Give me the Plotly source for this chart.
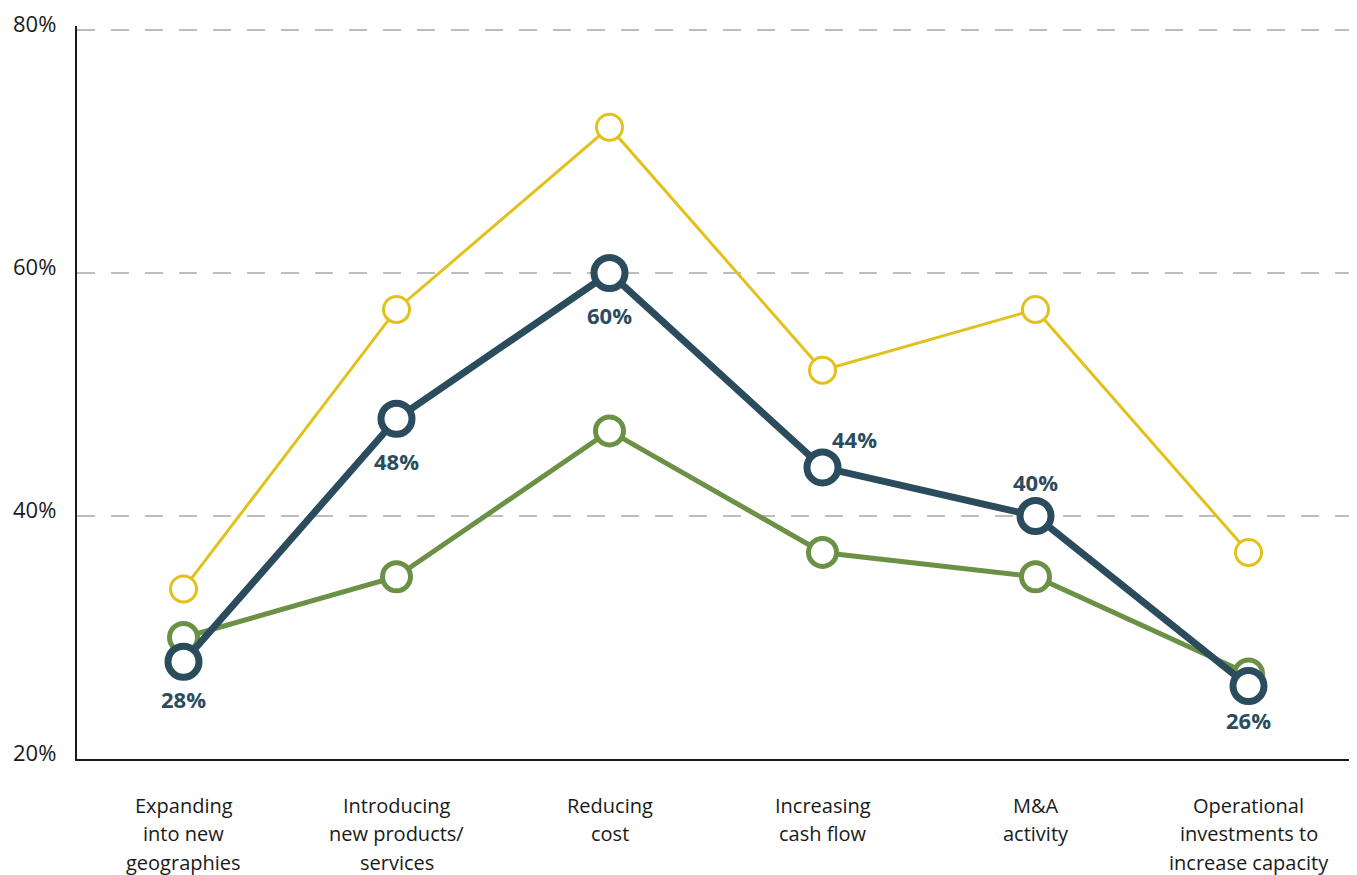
import plotly.graph_objects as go

category_lines = [
    ["Expanding", "into new", "geographies"],
    ["Introducing", "new products/", "services"],
    ["Reducing", "cost"],
    ["Increasing", "cash flow"],
    ["M&A", "activity"],
    ["Operational", "investments to", "increase capacity"],
]
yellow_values = [34, 57, 72, 52, 57, 37]
green_values = [30, 35, 47, 37, 35, 27]
dark_values = [28, 48, 60, 44, 40, 26]
dark_labels = ["28%", "48%", "60%", "44%", "40%", "26%"]
y_ticks = [20, 40, 60, 80]
y_tick_labels = ["20%", "40%", "60%", "80%"]

# label offsets (px) for the dark series callouts
label_shift = [(0, -37), (0, -42), (0, -42), (32, 28), (0, 34), (0, -34)]

COLORS = {
    "yellow": "#E3C11C",
    "green": "#6B9147",
    "dark": "#2A4C5D",
    "grid": "#BDBDBD",
    "ink": "#1A1A1A",
}
FONT = "Open Sans, sans-serif"

x = list(range(len(category_lines)))

fig = go.Figure()
fig.add_trace(
    go.Scatter(
        x=x,
        y=yellow_values,
        mode="lines+markers",
        line={"color": COLORS["yellow"], "width": 3},
        marker={"size": 26, "color": "white", "line": {"color": COLORS["yellow"], "width": 3}},
        showlegend=False,
        cliponaxis=False,
    )
)
fig.add_trace(
    go.Scatter(
        x=x,
        y=green_values,
        mode="lines+markers",
        line={"color": COLORS["green"], "width": 5},
        marker={"size": 28, "color": "white", "line": {"color": COLORS["green"], "width": 5}},
        showlegend=False,
        cliponaxis=False,
    )
)
fig.add_trace(
    go.Scatter(
        x=x,
        y=dark_values,
        mode="lines+markers",
        line={"color": COLORS["dark"], "width": 7},
        marker={"size": 31, "color": "white", "line": {"color": COLORS["dark"], "width": 7}},
        showlegend=False,
        cliponaxis=False,
    )
)

for xi, yi, label, (dx, dy) in zip(x, dark_values, dark_labels, label_shift):
    fig.add_annotation(
        x=xi,
        y=yi,
        text=f"<b>{label}</b>",
        showarrow=False,
        xshift=dx,
        yshift=dy,
        font={"color": COLORS["dark"], "size": 22, "family": FONT},
    )

# category labels, one annotation per line for wider line spacing
for xi, lines in zip(x, category_lines):
    for i, line in enumerate(lines):
        fig.add_annotation(
            x=xi,
            y=0,
            yref="paper",
            text=line,
            showarrow=False,
            yanchor="middle",
            borderpad=0,
            yshift=-(46 + i * 28.5),
            font={"color": COLORS["ink"], "size": 20, "family": FONT},
        )

# y tick labels sit slightly above their gridlines
for yv, label in zip(y_ticks, y_tick_labels):
    fig.add_annotation(
        x=0,
        xref="paper",
        y=yv,
        text=label,
        showarrow=False,
        xanchor="right",
        yanchor="middle",
        xshift=-19,
        yshift=7,
        font={"color": COLORS["ink"], "size": 22, "family": FONT},
    )

fig.update_layout(
    width=1349,
    height=867,
    paper_bgcolor="white",
    plot_bgcolor="white",
    font={"family": FONT, "color": COLORS["ink"], "size": 18},
    margin={"l": 69, "r": 2, "t": 18, "b": 116, "autoexpand": False},
)
fig.update_xaxes(
    range=[-0.5, 5.5],
    tickvals=x,
    showticklabels=False,
    showgrid=False,
    zeroline=False,
    showline=True,
    linecolor=COLORS["ink"],
    linewidth=2,
    ticks="",
    automargin=False,
)
fig.update_yaxes(
    range=[20, 80.33],
    tickvals=y_ticks,
    showticklabels=False,
    showgrid=True,
    gridcolor=COLORS["grid"],
    gridwidth=1.5,
    griddash="18px,16px",
    zeroline=False,
    showline=True,
    linecolor=COLORS["ink"],
    linewidth=2,
    ticks="",
    automargin=False,
)

fig.write_html("out.html")
